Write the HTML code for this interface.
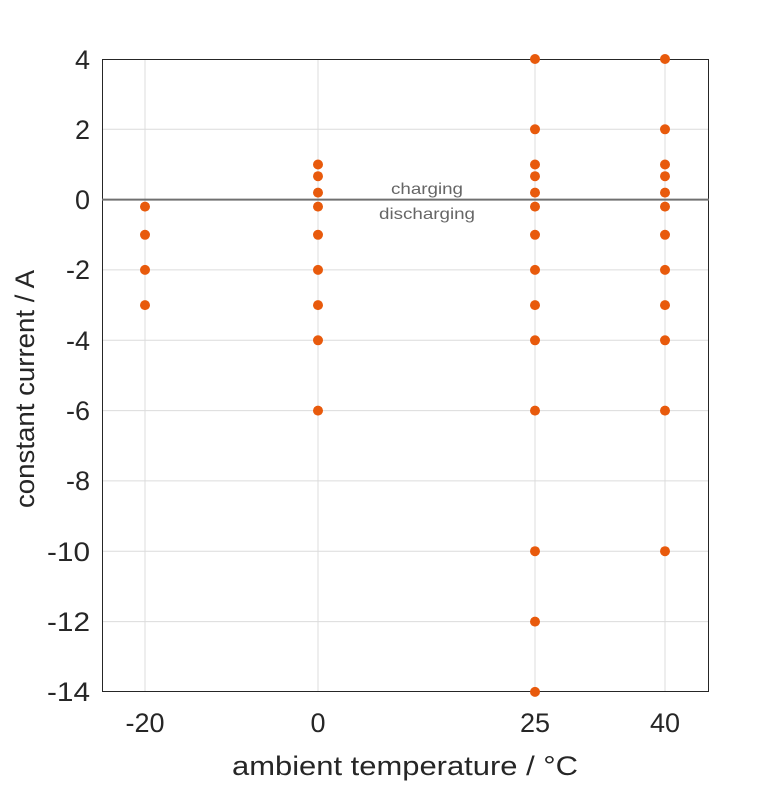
<!DOCTYPE html>
<html><head><meta charset="utf-8"><style>body{margin:0;background:#fff}</style></head><body>
<svg width="781" height="781" xmlns="http://www.w3.org/2000/svg" font-family="Liberation Sans, sans-serif">
<rect width="781" height="781" fill="#fff"/>
<g stroke="#dcdcdc" stroke-width="1">
<line x1="145" y1="59" x2="145" y2="692"/><line x1="318" y1="59" x2="318" y2="692"/>
<line x1="535" y1="59" x2="535" y2="692"/><line x1="665" y1="59" x2="665" y2="692"/>
<line x1="102" y1="129.3" x2="709" y2="129.3"/><line x1="102" y1="269.9" x2="709" y2="269.9"/>
<line x1="102" y1="340.3" x2="709" y2="340.3"/><line x1="102" y1="410.6" x2="709" y2="410.6"/>
<line x1="102" y1="480.9" x2="709" y2="480.9"/><line x1="102" y1="551.2" x2="709" y2="551.2"/>
<line x1="102" y1="621.6" x2="709" y2="621.6"/>
</g>
<rect x="102.5" y="59.5" width="606" height="632" fill="none" stroke="#262626" stroke-width="1"/>
<line x1="102" y1="199.6" x2="709" y2="199.6" stroke="#707070" stroke-width="2"/>
<text x="427" y="194" font-size="16" fill="#666" text-anchor="middle" textLength="72" lengthAdjust="spacingAndGlyphs">charging</text>
<text x="427" y="219" font-size="16" fill="#666" text-anchor="middle" textLength="96" lengthAdjust="spacingAndGlyphs">discharging</text>
<g font-size="27" fill="#262626" text-anchor="end">
<text x="90" y="69">4</text><text x="90" y="139">2</text><text x="90" y="209">0</text>
<text x="90" y="279">-2</text><text x="90" y="350">-4</text><text x="90" y="420">-6</text>
<text x="90" y="490">-8</text><text x="90" y="561" textLength="43" lengthAdjust="spacingAndGlyphs">-10</text><text x="90" y="631" textLength="43" lengthAdjust="spacingAndGlyphs">-12</text><text x="90" y="701" textLength="43" lengthAdjust="spacingAndGlyphs">-14</text>
</g>
<g font-size="27" fill="#262626" text-anchor="middle">
<text x="145" y="732">-20</text><text x="318" y="732">0</text><text x="535" y="732">25</text><text x="665" y="732">40</text>
<text x="405" y="775" textLength="346" lengthAdjust="spacingAndGlyphs">ambient temperature / °C</text>
</g>
<text transform="translate(34,389) rotate(-90)" font-size="27" fill="#262626" text-anchor="middle" textLength="238" lengthAdjust="spacingAndGlyphs">constant current / A</text>
<g fill="#e85a0c">
<circle cx="145" cy="206.6" r="5"/><circle cx="145" cy="234.8" r="5"/><circle cx="145" cy="269.9" r="5"/><circle cx="145" cy="305.1" r="5"/>
<circle cx="318" cy="164.5" r="5"/><circle cx="318" cy="176.2" r="5"/><circle cx="318" cy="192.6" r="5"/><circle cx="318" cy="206.6" r="5"/><circle cx="318" cy="234.8" r="5"/><circle cx="318" cy="269.9" r="5"/><circle cx="318" cy="305.1" r="5"/><circle cx="318" cy="340.3" r="5"/><circle cx="318" cy="410.6" r="5"/>
<circle cx="535" cy="59" r="5"/><circle cx="535" cy="129.3" r="5"/><circle cx="535" cy="164.5" r="5"/><circle cx="535" cy="176.2" r="5"/><circle cx="535" cy="192.6" r="5"/><circle cx="535" cy="206.6" r="5"/><circle cx="535" cy="234.8" r="5"/><circle cx="535" cy="269.9" r="5"/><circle cx="535" cy="305.1" r="5"/><circle cx="535" cy="340.3" r="5"/><circle cx="535" cy="410.6" r="5"/><circle cx="535" cy="551.2" r="5"/><circle cx="535" cy="621.6" r="5"/><circle cx="535" cy="691.9" r="5"/>
<circle cx="665" cy="59" r="5"/><circle cx="665" cy="129.3" r="5"/><circle cx="665" cy="164.5" r="5"/><circle cx="665" cy="176.2" r="5"/><circle cx="665" cy="192.6" r="5"/><circle cx="665" cy="206.6" r="5"/><circle cx="665" cy="234.8" r="5"/><circle cx="665" cy="269.9" r="5"/><circle cx="665" cy="305.1" r="5"/><circle cx="665" cy="340.3" r="5"/><circle cx="665" cy="410.6" r="5"/><circle cx="665" cy="551.2" r="5"/>
</g>
</svg>
</body></html>
